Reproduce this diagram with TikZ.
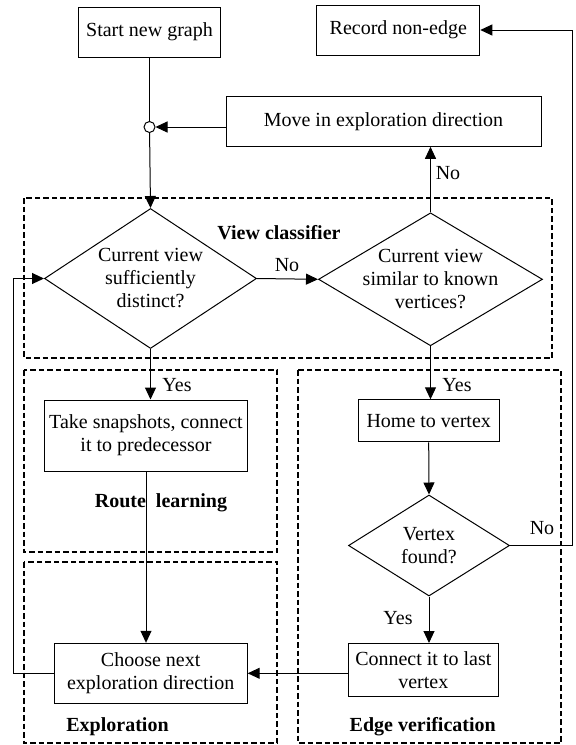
\documentclass[tikz,border=0pt]{standalone}
\usepackage{fontspec}
\setmainfont{Liberation Serif}
\usetikzlibrary{shapes.geometric,arrows.meta,positioning}

\begin{document}
\begin{tikzpicture}[
    x=1pt, y=-1pt,
    font=\fontsize{20}{23}\selectfont,
    box/.style={rectangle, draw, line width=1pt, align=center, inner sep=2pt},
    dia/.style={diamond, draw, line width=1pt, align=center, inner sep=-6pt},
    group/.style={draw, line width=1.5pt, dash pattern=on 5.5pt off 3pt},
    grouplabel/.style={font=\fontsize{20}{23}\selectfont\bfseries},
    arrow/.style={-{Triangle[length=12pt,width=11pt]}, line width=1pt},
    line/.style={line width=1pt}
]
\useasboundingbox (0,0) rectangle (576,745);

\draw[group] (24,198) rectangle (552,358);
\draw[group] (24,370) rectangle (277,552);
\draw[group] (24,562) rectangle (277,743);
\draw[group] (298,370) rectangle (561,743);

\node[grouplabel] (vclbl) at (279,233) {View classifier};
\node[grouplabel] (rllbl) at (161,503) {Route\hspace{10pt}learning};
\node[grouplabel] (exlbl) at (117.5,726.7) {Exploration};
\node[grouplabel] (evlbl) at (422.7,726.7) {Edge verification};

\node[box, minimum width=142, minimum height=50] (start) at (149.5,32) {Start new graph};
\node[box, minimum width=163, minimum height=50] (record) at (398.3,30) {Record non-edge};
\node[box, minimum width=315, minimum height=50] (move) at (383.5,121.3) {Move in exploration direction};
\node[circle, draw, fill=white, line width=1pt, minimum size=11, inner sep=0] (jn) at (149.5,127) {};
\node[dia, aspect=1.51, minimum width=212, minimum height=140] (d1) at (150.5,278.5) {Current view\\sufficiently\\distinct?};
\node[dia, aspect=1.68, minimum width=224, minimum height=133] (d2) at (430.5,279.3) {Current view\\similar to known\\vertices?};
\node[box, minimum width=203, minimum height=71] (snap) at (146,435.5) {Take snapshots, connect\\it to predecessor};
\node[box, minimum width=141, minimum height=42] (home) at (428.7,420.8) {Home to vertex};
\node[dia, aspect=1.59, minimum width=161, minimum height=101] (d3) at (429,545.5) {Vertex\\found?};
\node[box, minimum width=150, minimum height=53] (conn) at (423.3,670) {Connect it to last\\vertex};
\node[box, minimum width=193, minimum height=60] (choose) at (150.7,673.3) {Choose next\\exploration direction};

\draw[line] (start) -- (jn);
\draw[arrow] (jn) -- (d1.north);
\draw[arrow] (move.west |- jn) -- (jn);
\draw[arrow] (d2.north) -- (d2.north |- move.south);
\draw[arrow] (d1.east) -- (d2.west);
\draw[arrow] (d1.south) -- (d1.south |- snap.north);
\draw[arrow] (snap.south) -- (snap.south |- choose.north);
\draw[arrow] (d2.south) -- (d2.south |- home.north);
\draw[arrow] (home.south) -- (d3.north);
\draw[arrow] (d3.east) -- ++(62,0) |- (record.east);
\draw[arrow] (d3.south) -- (d3.south |- conn.north);
\draw[arrow] (conn.west |- choose.east) -- (choose.east);
\draw[arrow] (choose.west) -- ++(-40.7,0) |- (d1.west);

\node (no1) at (448,173) {No};
\node (no2) at (287,265) {No};
\node (yes1) at (177,385) {Yes};
\node (yes2) at (457,385) {Yes};
\node (no3) at (542,528) {No};
\node (yes3) at (398,618) {Yes};
\end{tikzpicture}
\end{document}
